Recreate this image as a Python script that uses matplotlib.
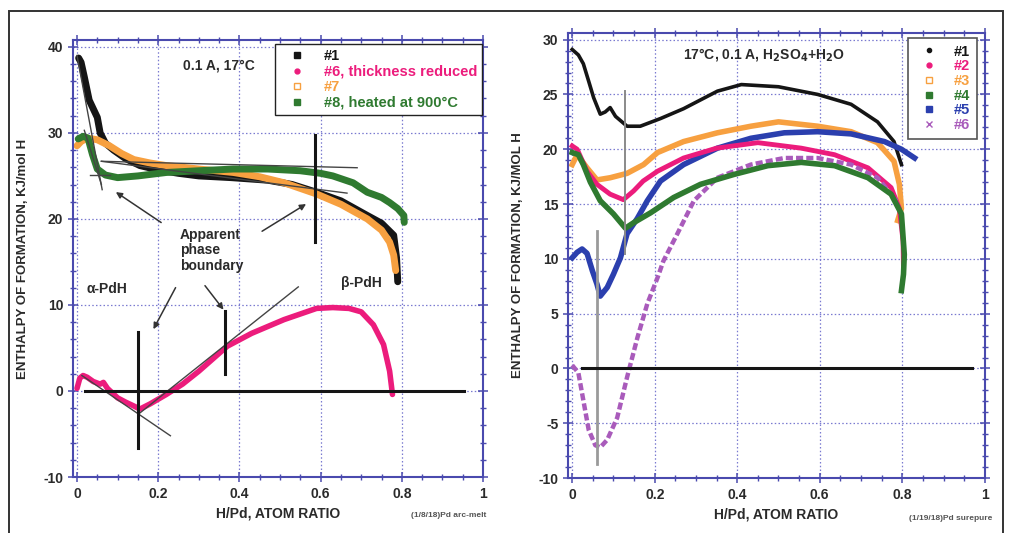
import matplotlib
matplotlib.use("Agg")
import matplotlib.pyplot as plt
from matplotlib.lines import Line2D
from matplotlib.patches import Rectangle
from matplotlib.ticker import MultipleLocator

plt.rcParams["font.family"] = ["Liberation Sans", "DejaVu Sans"]
plt.rcParams["font.weight"] = "bold"
plt.rcParams["axes.labelweight"] = "bold"
plt.rcParams["axes.unicode_minus"] = False

# ---- Left panel: Pd arc-melt samples ----
b1_x = [0.004, 0.01, 0.018, 0.03, 0.04, 0.05, 0.057, 0.07, 0.09, 0.12, 0.155, 0.2, 0.25,
        0.30, 0.38, 0.47, 0.53, 0.59, 0.65, 0.715, 0.75, 0.78, 0.787, 0.79]
b1_y = [38.7, 38.2, 36.5, 33.8, 32.8, 31.8, 30.0, 28.8, 28.0, 27.0, 26.2, 25.7, 25.3,
        25.0, 24.8, 24.5, 24.0, 23.1, 22.1, 20.4, 19.5, 18.1, 15.5, 12.7]

o7_x = [0.0, 0.01, 0.025, 0.05, 0.08, 0.11, 0.14, 0.18, 0.22, 0.3, 0.385, 0.45, 0.51,
        0.59, 0.65, 0.715, 0.75, 0.77, 0.78, 0.785]
o7_y = [28.5, 29.0, 29.4, 29.2, 28.5, 27.6, 26.9, 26.5, 26.2, 25.8, 25.4, 24.9, 24.2,
        22.9, 21.7, 20.0, 18.7, 17.3, 15.8, 14.0]

g8_x = [0.003, 0.015, 0.027, 0.038, 0.05, 0.07, 0.1, 0.15, 0.22, 0.3, 0.385, 0.47,
        0.55, 0.6, 0.63, 0.68, 0.715, 0.75, 0.77, 0.79, 0.805, 0.806]
g8_y = [29.3, 29.6, 29.4, 27.5, 25.8, 25.1, 24.8, 25.0, 25.4, 25.6, 25.8, 25.8,
        25.6, 25.3, 25.0, 24.2, 23.1, 22.5, 21.9, 21.2, 20.4, 19.6]

p6_x = [0.0, 0.007, 0.015, 0.025, 0.04, 0.057, 0.065, 0.075, 0.1, 0.12, 0.138, 0.155,
        0.18, 0.22, 0.26, 0.30, 0.37, 0.43, 0.51, 0.59, 0.63, 0.67, 0.70, 0.73, 0.755,
        0.77, 0.777]
p6_y = [0.3, 1.5, 1.8, 1.6, 1.1, 0.8, 1.0, 0.3, -0.8, -1.3, -1.7, -2.1,
        -1.5, -0.4, 0.8, 2.3, 5.2, 6.7, 8.3, 9.6, 9.7, 9.6, 9.2, 7.7, 5.4,
        2.3, -0.4]

left_labels = ["#1", "#6, thickness reduced", "#7", "#8, heated at 900°C"]

# ---- Right panel: Pd surepure samples ----
r1_x = [0.0, 0.015, 0.027, 0.04, 0.052, 0.068, 0.08, 0.092, 0.105, 0.133, 0.165, 0.214,
        0.27, 0.352, 0.41, 0.5, 0.595, 0.676, 0.74, 0.78, 0.798]
r1_y = [29.1, 28.6, 27.8, 26.2, 24.7, 23.2, 23.4, 23.8, 23.0, 22.1, 22.1, 22.8,
        23.7, 25.3, 25.9, 25.7, 25.0, 24.1, 22.5, 20.7, 18.6]

r2_x = [0.0, 0.012, 0.036, 0.06, 0.092, 0.124, 0.149, 0.172, 0.207, 0.27, 0.35, 0.45,
        0.555, 0.636, 0.717, 0.773, 0.793, 0.802, 0.803]
r2_y = [20.3, 20.0, 18.0, 16.8, 15.9, 15.4, 16.2, 17.1, 18.0, 19.2, 20.1, 20.6,
        20.1, 19.5, 18.3, 16.5, 14.6, 11.6, 8.9]

r3_x = [0.0, 0.012, 0.036, 0.06, 0.092, 0.133, 0.173, 0.207, 0.27, 0.352, 0.433, 0.5,
        0.595, 0.676, 0.74, 0.78, 0.793, 0.798, 0.789]
r3_y = [18.6, 19.5, 18.3, 17.2, 17.4, 17.8, 18.6, 19.7, 20.7, 21.5, 22.1, 22.5,
        22.1, 21.6, 20.6, 18.9, 16.8, 14.6, 13.5]

r4_x = [0.0, 0.015, 0.027, 0.044, 0.068, 0.1, 0.129, 0.149, 0.19, 0.246, 0.311, 0.392,
        0.474, 0.555, 0.636, 0.717, 0.773, 0.798, 0.805, 0.803, 0.798]
r4_y = [19.7, 19.5, 18.6, 17.0, 15.3, 14.1, 12.8, 13.3, 14.2, 15.6, 16.8, 17.7,
        18.5, 18.8, 18.5, 17.4, 15.9, 14.1, 10.4, 8.6, 7.1]

r5_x = [0.0, 0.012, 0.024, 0.036, 0.049, 0.06, 0.068, 0.085, 0.1, 0.117, 0.133, 0.158,
        0.182, 0.214, 0.27, 0.352, 0.433, 0.514, 0.595, 0.676, 0.757, 0.798, 0.83]
r5_y = [10.1, 10.6, 10.9, 10.5, 8.9, 7.7, 6.6, 7.4, 8.6, 10.1, 12.3, 13.7,
        15.3, 17.1, 18.6, 20.1, 21.0, 21.5, 21.6, 21.4, 20.7, 20.0, 19.2]

r6_x = [0.0, 0.015, 0.027, 0.04, 0.056, 0.068, 0.085, 0.109, 0.133, 0.158, 0.182, 0.207,
        0.221, 0.255, 0.295, 0.352, 0.433, 0.514, 0.595, 0.676, 0.74, 0.786]
r6_y = [0.3, -0.4, -2.9, -5.6, -7.0, -7.2, -6.5, -4.5, -0.8, 2.8, 5.9, 8.3,
        9.8, 12.3, 15.3, 17.4, 18.6, 19.2, 19.2, 18.6, 17.4, 15.3]

right_labels = ["#1", "#2", "#3", "#4", "#5", "#6"]

BLACK = "#151515"
PINK = "#ec1c7c"
ORANGE = "#f7a040"
GREEN = "#2f7a30"
BLUE = "#2b3fae"
PURPLE = "#a95bbb"
FRAME = "#4a4aae"
GRID = "#7a7ad0"
TXT = "#2a2a2a"


def style_axes(ax, ymin, ymax, ymajor, yminor):
    ax.set_xlim(-0.01, 1.0)
    ax.set_ylim(ymin, ymax)
    ax.xaxis.set_major_locator(MultipleLocator(0.2))
    ax.xaxis.set_minor_locator(MultipleLocator(0.05))
    ax.yaxis.set_major_locator(MultipleLocator(ymajor))
    ax.yaxis.set_minor_locator(MultipleLocator(yminor))
    ax.xaxis.set_major_formatter(lambda v, p: f"{v:g}")
    ax.grid(True, which="major", color=GRID, linestyle=(0, (1.2, 1.8)), linewidth=0.9)
    ax.tick_params(which="both", direction="inout", top=True, right=True,
                   color=FRAME, labelcolor=TXT, labelsize=10)
    ax.tick_params(which="major", length=7, width=1.1)
    ax.tick_params(which="minor", length=5, width=1.0)
    for s in ax.spines.values():
        s.set_color(FRAME)
        s.set_linewidth(1.5)
    ax.set_xlabel("H/Pd, ATOM RATIO", fontsize=10, color=TXT, labelpad=4)
    ax.set_axisbelow(True)


fig = plt.figure(figsize=(10.09, 5.33), dpi=100)

# outer frame
fig.add_artist(Rectangle((0.0089, -0.05), 0.9852, 1.0294, transform=fig.transFigure,
                         fill=False, edgecolor="#333333", linewidth=1.4))

# ---------------- left panel ----------------
ax1 = fig.add_axes([0.0723, 0.105, 0.4064, 0.82])
style_axes(ax1, -10, 40.8, 10, 2)
ax1.set_ylabel("ENTHALPY OF FORMATION, KJ/mol H", fontsize=9.5, color=TXT, labelpad=10)

ax1.plot(b1_x, b1_y, color=BLACK, lw=5, solid_capstyle="round", solid_joinstyle="round")
ax1.plot(o7_x, o7_y, color=ORANGE, lw=5, solid_capstyle="round", solid_joinstyle="round")
ax1.plot(g8_x, g8_y, color=GREEN, lw=5, solid_capstyle="round", solid_joinstyle="round")
ax1.plot(p6_x, p6_y, color=PINK, lw=4, solid_capstyle="round", solid_joinstyle="round")

# tangent construction lines
thin = dict(color="#444444", lw=1.0)
ax1.plot([0.0, 0.062], [39.0, 23.4], **thin)
ax1.plot([0.018, 0.06], [30.3, 24.0], **thin)
ax1.plot([0.032, 0.081], [25.1, 25.1], **thin)
ax1.plot([0.06, 0.69], [26.7, 25.95], **thin)
ax1.plot([0.06, 0.665], [26.7, 23.0], **thin)
ax1.plot([0.012, 0.23], [1.8, -5.2], **thin)
ax1.plot([0.151, 0.545], [-2.7, 12.1], **thin)

# phase boundary markers
ax1.plot([0.587, 0.587], [17.3, 29.8], color=BLACK, lw=2.2)
ax1.plot([0.365, 0.365], [2.0, 9.3], color=BLACK, lw=2.2)
ax1.plot([0.151, 0.151], [-6.6, 6.9], color=BLACK, lw=2.2)
ax1.plot([0.02, 0.952], [0, 0], color=BLACK, lw=2.2)

arrow = dict(arrowstyle="-|>", color="#333333", lw=1.1, mutation_scale=9)
ax1.annotate("", xy=(0.09, 23.3), xytext=(0.213, 19.4), arrowprops=arrow)
ax1.annotate("", xy=(0.57, 21.9), xytext=(0.45, 18.4), arrowprops=arrow)
ax1.annotate("", xy=(0.185, 6.9), xytext=(0.246, 12.3), arrowprops=arrow)
ax1.annotate("", xy=(0.365, 9.2), xytext=(0.311, 12.5), arrowprops=arrow)

ax1.text(0.254, 19.0, "Apparent\nphase\nboundary", fontsize=10, color=TXT,
         va="top", ha="left", linespacing=1.15)
ax1.text(0.024, 11.9, "α-PdH", fontsize=10, color=TXT, va="center")
ax1.text(0.65, 12.5, "β-PdH", fontsize=10, color=TXT, va="center")
ax1.text(0.26, 37.8, "0.1 A, 17°C", fontsize=10, color=TXT, va="center")

h1 = [Line2D([], [], marker="s", ls="none", color=BLACK, ms=4.5),
      Line2D([], [], marker="o", ls="none", color=PINK, ms=3.5),
      Line2D([], [], marker="s", ls="none", mfc="white", mec=ORANGE, ms=4),
      Line2D([], [], marker="s", ls="none", color=GREEN, ms=4.5)]
leg1 = ax1.legend(h1, left_labels, loc="upper right", bbox_to_anchor=(0.998, 0.99),
                  labelcolor=[BLACK, PINK, ORANGE, GREEN], fontsize=10.5,
                  frameon=True, fancybox=False, edgecolor="#222222", framealpha=1,
                  borderpad=0.35, labelspacing=0.1, handletextpad=0.6, handlelength=2.4,
                  borderaxespad=0)
leg1.get_frame().set_linewidth(1.0)

fig.text(0.482, 0.03, "(1/8/18)Pd arc-melt", fontsize=6, color="#555555", ha="right")

# ---------------- right panel ----------------
ax2 = fig.add_axes([0.563, 0.103, 0.413, 0.835])
style_axes(ax2, -10, 30.6, 5, 1)
ax2.set_ylabel("ENTHALPY OF FORMATION, KJ/MOL H", fontsize=9.5, color=TXT, labelpad=10)

ax2.plot(r1_x, r1_y, color=BLACK, lw=2.6, solid_joinstyle="round")
ax2.plot(r3_x, r3_y, color=ORANGE, lw=4, solid_joinstyle="round")
ax2.plot(r5_x, r5_y, color=BLUE, lw=4, solid_joinstyle="round")
ax2.plot(r2_x, r2_y, color=PINK, lw=3.5, solid_joinstyle="round")
ax2.plot(r6_x, r6_y, color=PURPLE, lw=3.2, linestyle=(0, (1.6, 0.7)))
ax2.plot(r4_x, r4_y, color=GREEN, lw=4, solid_joinstyle="round")

ax2.plot([0.129, 0.129], [10.4, 25.3], color="#8a8a8a", lw=1.4)
ax2.plot([0.06, 0.06], [-8.7, 12.5], color="#9a9a9a", lw=2.0)
ax2.plot([0.024, 0.968], [0, 0], color=BLACK, lw=2.2)

ax2.text(0.268, 28.6, "17°C, 0.1 A, H$_\\mathbf{2}$SO$_\\mathbf{4}$+H$_\\mathbf{2}$O",
         fontsize=10, color=TXT, va="center")

h2 = [Line2D([], [], marker="o", ls="none", color=BLACK, ms=3),
      Line2D([], [], marker="o", ls="none", color=PINK, ms=3.5),
      Line2D([], [], marker="s", ls="none", mfc="white", mec=ORANGE, ms=4),
      Line2D([], [], marker="s", ls="none", color=GREEN, ms=4.5),
      Line2D([], [], marker="s", ls="none", color=BLUE, ms=4.5),
      Line2D([], [], marker="x", ls="none", color=PURPLE, ms=4)]
leg2 = ax2.legend(h2, right_labels, loc="upper right", bbox_to_anchor=(0.981, 0.989),
                  labelcolor=[BLACK, PINK, ORANGE, GREEN, BLUE, PURPLE], fontsize=10.5,
                  frameon=True, fancybox=False, edgecolor="#555555", framealpha=1,
                  borderpad=0.45, labelspacing=0.05, handletextpad=0.7, handlelength=2.0,
                  borderaxespad=0)
leg2.get_frame().set_linewidth(1.2)

fig.text(0.984, 0.024, "(1/19/18)Pd surepure", fontsize=6, color="#555555", ha="right")

plt.savefig("out.png", dpi=100)
plt.close()
